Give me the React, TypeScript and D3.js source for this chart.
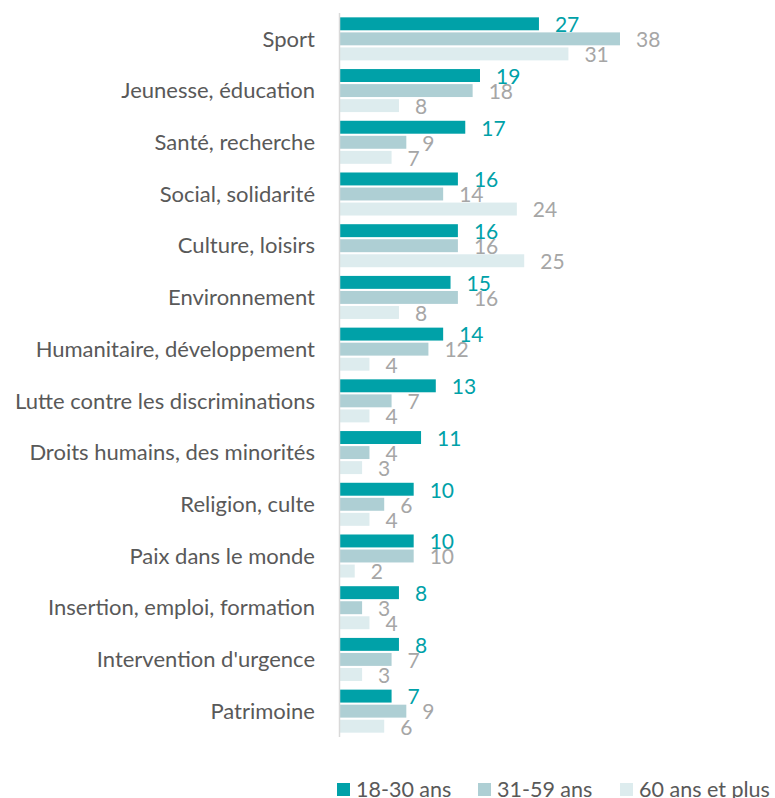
import React from "react";
import * as d3 from "d3";

const categories = [
  "Sport",
  "Jeunesse, éducation",
  "Santé, recherche",
  "Social, solidarité",
  "Culture, loisirs",
  "Environnement",
  "Humanitaire, développement",
  "Lutte contre les discriminations",
  "Droits humains, des minorités",
  "Religion, culte",
  "Paix dans le monde",
  "Insertion, emploi, formation",
  "Intervention d'urgence",
  "Patrimoine",
];

const series = ["18-30 ans", "31-59 ans", "60 ans et plus"];

const young = [27, 19, 17, 16, 16, 15, 14, 13, 11, 10, 10, 8, 8, 7];
const middle = [38, 18, 9, 14, 16, 16, 12, 7, 4, 6, 10, 3, 7, 9];
const senior = [31, 8, 7, 24, 25, 8, 4, 4, 3, 4, 2, 4, 3, 6];

const values = [young, middle, senior];

const barColors = ["#00a1a8", "#aecfd4", "#ddecee"];
const labelColors = ["#00a1a8", "#a6a6a6", "#a6a6a6"];

const width = 775;
const height = 798;
const font = "Lato, 'Open Sans', sans-serif";

export default function App() {
  const x = d3.scaleLinear().domain([0, 38]).range([340, 620]);

  // une bande par catégorie
  const y = d3
    .scaleBand<string>()
    .domain(categories)
    .range([13, 737])
    .paddingInner(0.168)
    .paddingOuter(0.084);

  // les trois barres dans chaque bande
  const inner = d3
    .scaleBand<string>()
    .domain(series)
    .range([0, y.bandwidth()])
    .paddingInner(0.14);

  const legendX = [337, 478, 620];

  return (
    <svg
      width={width}
      height={height}
      style={{ position: "absolute", left: 0, top: 0 }}
      fontFamily={font}
    >
      {categories.map((c) => (
        <g key={c} transform={`translate(0,${y(c)})`}>
          <text
            x={315}
            y={y.bandwidth() / 2}
            dy="0.35em"
            textAnchor="end"
            fontSize={22}
            fill="#595959"
          >
            {c}
          </text>
          {series.map((s, si) => {
            const v = values[si][categories.indexOf(c)];
            const by = inner(s)!;
            return (
              <g key={s}>
                <rect
                  x={x(0)}
                  y={by}
                  width={x(v) - x(0)}
                  height={inner.bandwidth()}
                  fill={barColors[si]}
                />
                <text
                  x={x(v) + 16}
                  y={by + inner.bandwidth() / 2 + 1}
                  dy="0.35em"
                  fontSize={21}
                  fill={labelColors[si]}
                >
                  {v}
                </text>
              </g>
            );
          })}
        </g>
      ))}

      {/* axe vertical */}
      <line x1={339.5} x2={339.5} y1={13} y2={737} stroke="#d9d9d9" strokeWidth={1.5} />

      {/* légende */}
      {series.map((s, i) => (
        <g key={s} transform={`translate(${legendX[i]},783)`}>
          <rect x={0} y={0} width={13} height={13} fill={barColors[i]} />
          <text x={19} y={6} dy="0.35em" fontSize={21.5} fill="#595959">
            {s}
          </text>
        </g>
      ))}
    </svg>
  );
}
